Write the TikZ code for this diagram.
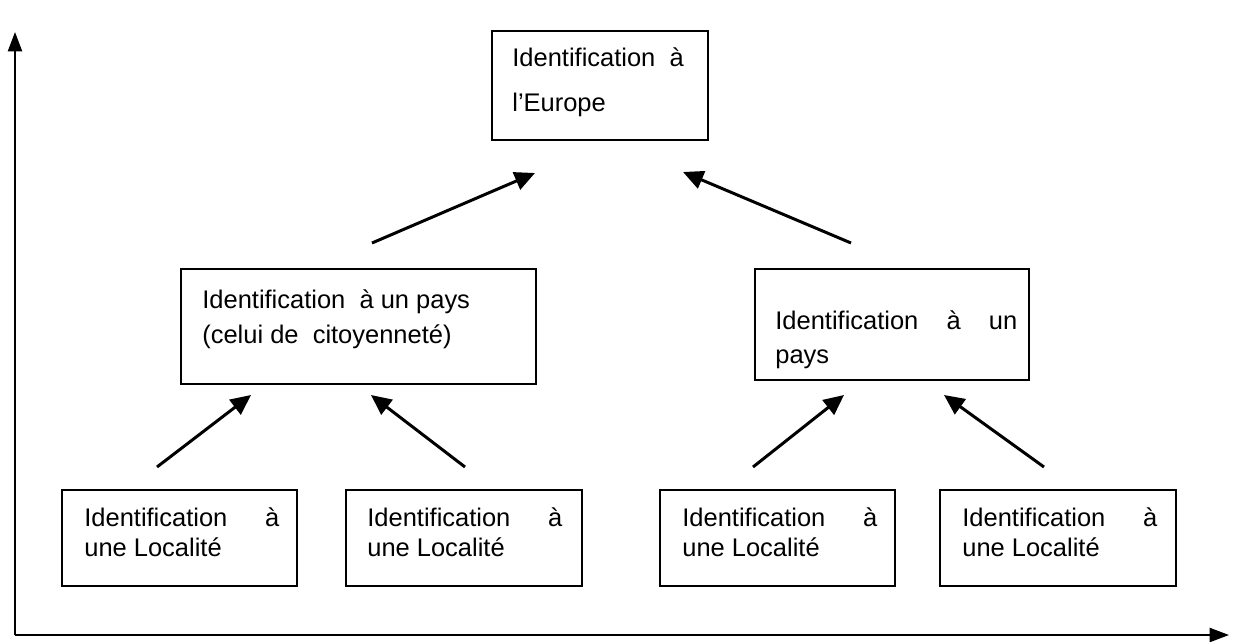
\documentclass[tikz,border=0pt]{standalone}
\usepackage{fontspec}
\setmainfont{Liberation Sans}
\usetikzlibrary{arrows.meta,fit}

\begin{document}
\begin{tikzpicture}[x=0.02cm,y=-0.02cm,
    box/.style={draw,line width=1.1pt,inner sep=0pt},
    txt/.style={inner sep=0pt,anchor=base west,font=\fontsize{14.5}{17}\selectfont},
    conn/.style={line width=1.7pt,-{Triangle[length=11.5pt,width=10.5pt]}},
    axis/.style={line width=1.1pt,-{Triangle[length=11pt,width=8pt]}}]
  \useasboundingbox (0,0) rectangle (1237,642);

  % boxes
  \node[box,fit={(492,31) (708,140)}]   (eu) {};
  \node[box,fit={(181,269) (536,384)}]  (pc) {};
  \node[box,fit={(755,269) (1029,380)}] (pa) {};
  \node[box,fit={(62,490) (297,586)}]   (l1) {};
  \node[box,fit={(346,490) (582,586)}]  (l2) {};
  \node[box,fit={(660,490) (895,586)}]  (l3) {};
  \node[box,fit={(940,490) (1176,586)}] (l4) {};

  % box texts
  \node[txt] (eu1) at (512,67)  {Identification\ \ à};
  \node[txt] (eu2) at (512,112) {l’Europe};
  \node[txt] (pc1) at (202,308) {Identification\ \ à un pays};
  \node[txt] (pc2) at (202,343) {(celui de\ \ citoyenneté)};
  \node[txt] (pa1) at (775,329) {\makebox[4.84cm][s]{Identification\hfill à\hfill un}};
  \node[txt] (pa2) at (775,363) {pays};
  \foreach \n/\x in {l1/84,l2/367,l3/682,l4/962}{
    \node[txt] (\n a) at (\x,526) {\makebox[3.9cm][s]{Identification\hfill à}};
    \node[txt] (\n b) at (\x,556) {une Localité};
  }

  % arrow ends
  \coordinate (s1) at (372,243);  \coordinate (e1) at (535,173);
  \coordinate (s2) at (851,243);  \coordinate (e2) at (683,172);
  \coordinate (s3) at (157,467);  \coordinate (e3) at (251,395);
  \coordinate (s4) at (465,467);  \coordinate (e4) at (371,395);
  \coordinate (s5) at (753,467);  \coordinate (e5) at (844,395);
  \coordinate (s6) at (1044,467); \coordinate (e6) at (944,395);
  \foreach \i in {1,...,6}{\draw[conn] (s\i) -- (e\i);}

  % axes
  \coordinate (o) at (15,635);
  \coordinate (ytop) at (15,32);
  \coordinate (xend) at (1229,635);
  \draw[axis] (o) -- (ytop);
  \draw[axis] (o) -- (xend);
\end{tikzpicture}
\end{document}
